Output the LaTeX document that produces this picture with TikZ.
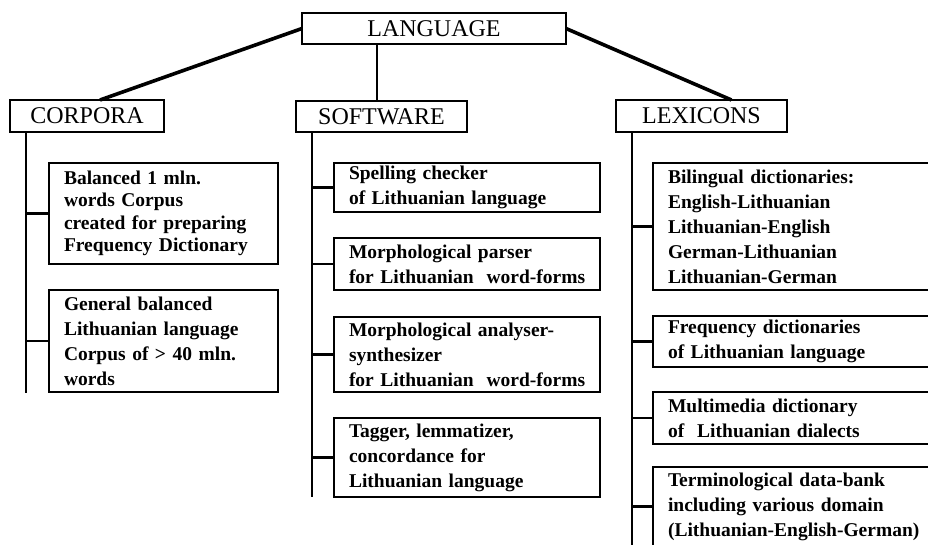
\documentclass[tikz,border=0pt]{standalone}
\usepackage{fontspec}
\setmainfont{Liberation Serif}
\usetikzlibrary{calc}
\begin{document}
\begin{tikzpicture}[x=1pt,y=-1pt,
  hdr/.style={draw,line width=1.8pt,anchor=north west,outer sep=0pt,inner sep=0pt,
    font=\fontsize{24}{28}\selectfont,align=center},
  itembox/.style={draw,line width=1.8pt,anchor=north west,outer sep=0pt,inner xsep=15pt,inner ysep=0pt,
    font=\fontsize{19.5}{25}\bfseries\selectfont,align=left,
    execute at begin node={\hyphenpenalty=10000\exhyphenpenalty=10000}},
  trunk/.style={line width=3.6pt},
  spine/.style={line width=2.6pt},
  twig/.style={line width=2.4pt}]
\useasboundingbox (0,0) rectangle (928,544);
\clip (0,0) rectangle (928,544);

% headers
\node[hdr,minimum width=264pt,minimum height=31pt] (lang) at (302,13) {LANGUAGE};
\node[hdr,minimum width=154pt,minimum height=32pt] (corp) at (10,100) {CORPORA};
\node[hdr,minimum width=171pt,minimum height=31pt] (soft) at (296,101) {SOFTWARE};
\node[hdr,minimum width=171pt,minimum height=32pt] (lex) at (616,100) {LEXICONS};

% corpora items
\node[itembox,text width=199pt,minimum height=101pt,font=\fontsize{19.5}{22.5}\bfseries\selectfont] (c1) at (49,163)
  {Balanced 1 mln.\\words Corpus\\created for preparing\\Frequency Dictionary};
\node[itembox,text width=199pt,minimum height=102pt] (c2) at (49,290)
  {General balanced\\Lithuanian language\\Corpus of > 40 mln.\\words};

% software items
\node[itembox,text width=236pt,minimum height=49pt] (s1) at (334,163)
  {Spelling checker\\of Lithuanian language};
\node[itembox,text width=236pt,minimum height=52pt] (s2) at (334,238)
  {Morphological parser\\\mbox{for Lithuanian~ word-forms}};
\node[itembox,text width=236pt,minimum height=75pt] (s3) at (334,317)
  {\mbox{Morphological analyser-}\\synthesizer\\\mbox{for Lithuanian~ word-forms}};
\node[itembox,text width=236pt,minimum height=79pt] (s4) at (334,418)
  {Tagger, lemmatizer,\\concordance for\\Lithuanian language};

% lexicon items
\node[itembox,text width=277pt,minimum height=127pt] (l1) at (653,163)
  {Bilingual dictionaries:\\English-Lithuanian\\Lithuanian-English\\German-Lithuanian\\Lithuanian-German};
\node[itembox,text width=277pt,minimum height=51pt] (l2) at (653,316)
  {Frequency dictionaries\\of Lithuanian language};
\node[itembox,text width=277pt,minimum height=52pt] (l3) at (653,392)
  {Multimedia dictionary\\of~ Lithuanian dialects};
\node[itembox,text width=277pt,minimum height=79pt] (l4) at (653,467)
  {Terminological data-bank\\including various domain\\(Lithuanian-English-German)};

% top connectors
\draw[trunk] (lang.west) -- ([xshift=13pt]corp.north);
\draw[trunk] (lang.east) -- ([xshift=30pt]lex.north);
\draw[spine] ([xshift=-4.5pt]soft.north) -- ([xshift=-4.5pt]soft.north |- lang.south);

% spines
\draw[spine] ([xshift=16pt]corp.south west) coordinate (cs) -- ++(0,261) coordinate (ce);
\draw[spine] ([xshift=16pt]soft.south west) coordinate (ss) -- ++(0,365) coordinate (se);
\draw[spine] ([xshift=16pt]lex.south west) coordinate (ls) -- ++(0,430) coordinate (le);

% branches
\foreach \b in {c1,c2} \draw[twig] (\b.west -| cs) -- (\b.west);
\foreach \b in {s1,s2,s3,s4} \draw[twig] (\b.west -| ss) -- (\b.west);
\foreach \b in {l1,l2,l3,l4} \draw[twig] (\b.west -| ls) -- (\b.west);
\end{tikzpicture}
\end{document}
